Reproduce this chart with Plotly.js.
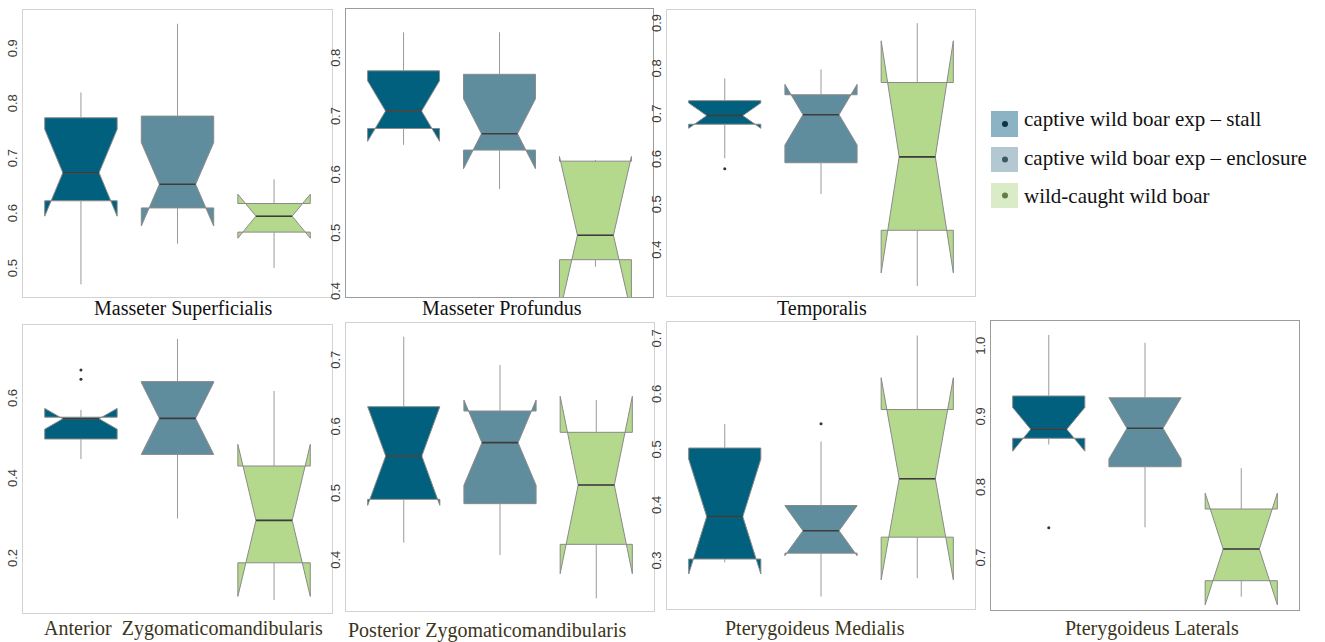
<!DOCTYPE html>
<html><head><meta charset="utf-8">
<script src="https://cdn.plot.ly/plotly-3.0.1.min.js"></script>
<style>html,body{margin:0;padding:0;background:#fff}</style>
</head><body><div id="chart" style="width:1325px;height:642px"></div>
<script>
// ---- data ----
const muscles = ['Masseter Superficialis','Masseter Profundus','Temporalis','Anterior\u00a0 Zygomaticomandibularis','Posterior Zygomaticomandibularis','Pterygoideus Medialis','Pterygoideus Laterals'];
const groups = ['captive wild boar exp \u2013 stall','captive wild boar exp \u2013 enclosure','wild-caught wild boar'];

const stallQ1     = [0.626, 0.682, 0.681, 0.5025, 0.4935, 0.306, 0.8717];
const stallMedian = [0.677, 0.712, 0.700, 0.553, 0.5585, 0.3825, 0.8844];
const stallQ3     = [0.777, 0.781, 0.733, 0.557, 0.6325, 0.506, 0.9316];
const stallLow    = [0.474, 0.654, 0.606, 0.4525, 0.4285, 0.300, 0.863];
const stallHigh   = [0.823, 0.847, 0.782, 0.575, 0.7375, 0.549, 1.018];
const stallNotch  = [0.079, 0.052, 0.028, 0.026, 0.074, 0.1035, 0.031];
const stallOutliers = [[], [], [0.583], [0.675, 0.652], [], [], [0.745]];

const enclQ1     = [0.613, 0.645, 0.596, 0.464, 0.487, 0.3166, 0.8314];
const enclMedian = [0.656, 0.673, 0.702, 0.554, 0.5785, 0.357, 0.8858];
const enclQ3     = [0.780, 0.775, 0.746, 0.646, 0.626, 0.4024, 0.929];
const enclLow    = [0.548, 0.578, 0.527, 0.304, 0.410, 0.2384, 0.7456];
const enclHigh   = [0.948, 0.847, 0.802, 0.7525, 0.695, 0.5177, 1.007];
const enclNotch  = [0.076, 0.060, 0.067, 0.090, 0.064, 0.045, 0.0434];
const enclOutliers = [[], [], [], [], [], [0.5495], []];

const wildQ1     = [0.569, 0.457, 0.447, 0.193, 0.426, 0.3454, 0.670];
const wildMedian = [0.598, 0.499, 0.609, 0.299, 0.515, 0.4505, 0.7149];
const wildQ3     = [0.621, 0.626, 0.773, 0.435, 0.594, 0.5753, 0.7715];
const wildLow    = [0.504, 0.445, 0.324, 0.100, 0.345, 0.2715, 0.6473];
const wildHigh   = [0.665, 0.628, 0.904, 0.6225, 0.6425, 0.7087, 0.8292];
const wildNotch  = [0.040, 0.135, 0.256, 0.190, 0.133, 0.182, 0.079];
const wildOutliers = [[], [], [], [], [], [], []];

const yRanges = [[0.451,0.973],[0.393,0.887],[0.302,0.933],[0.0675,0.7875],[0.326,0.758],[0.216,0.733],[0.6285,1.0378]];
const yDticks = [0.1,0.1,0.1,0.2,0.1,0.1,0.1];

// ---- styling / layout ----
const W = 1325, H = 642;
const panelPx = [[23,332,10,297],[346,653,9,297],[667,975,10,296],[23,332,325,613],[346,654,323,611],[667,975,322,609],[991,1299,321,610]];
const frameColors = ['#d2d2d2','#9c9c9c','#d2d2d2','#d2d2d2','#d2d2d2','#d2d2d2','#9c9c9c'];
const labelPos = [[183,308],[502,308],[822,308],[183.5,628],[486.5,630],[815,628],[1151.5,628]];
const labelColors = ['#111','#111','#111','#3b341a','#3b341a','#3b341a','#3b341a'];
const fills = ['#00607e','#5f8d9d','#b4d88c'];
const legendFills = ['#8bb3c3','#b3c8d0','#d9ebc7'];
const legendDots = ['#0c3546','#3b5864','#617d4c'];
const boxWidth = 0.75, notchW = 0.25;

const stats = [
  [stallQ1, stallMedian, stallQ3, stallLow, stallHigh, stallNotch, stallOutliers],
  [enclQ1, enclMedian, enclQ3, enclLow, enclHigh, enclNotch, enclOutliers],
  [wildQ1, wildMedian, wildQ3, wildLow, wildHigh, wildNotch, wildOutliers]
];

const px2x = p => p / W;
const py2y = p => 1 - p / H;

const traces = [];
const layout = {
  width: W, height: H,
  margin: {l:0, r:0, t:0, b:0},
  paper_bgcolor: '#fff', plot_bgcolor: '#fff',
  showlegend: false,
  shapes: [], annotations: []
};

for (let k = 0; k < muscles.length; k++) {
  const ax = k === 0 ? '' : String(k + 1);
  const b = panelPx[k];
  layout['xaxis' + ax] = {
    domain: [px2x(b[0]), px2x(b[1])], range: [-0.6, 2.6],
    showticklabels: false, ticks: '', showgrid: false, zeroline: false,
    showline: true, mirror: true, linecolor: frameColors[k], linewidth: 1,
    anchor: 'y' + ax, fixedrange: true
  };
  layout['yaxis' + ax] = {
    domain: [py2y(b[3]), py2y(b[2])], range: yRanges[k],
    tick0: 0, dtick: yDticks[k], tickformat: '.1f', tickangle: -90, ticks: '',
    tickfont: {family: 'Liberation Sans, Arial, sans-serif', size: 13, color: '#3a3a3a'},
    showgrid: false, zeroline: false,
    showline: true, mirror: true, linecolor: frameColors[k], linewidth: 1,
    anchor: 'x' + ax, fixedrange: true
  };
  for (let g = 0; g < 3; g++) {
    const s = stats[g];
    // whiskers (drawn underneath the box)
    traces.push({
      type: 'scatter', mode: 'lines', xaxis: 'x' + ax, yaxis: 'y' + ax,
      x: [g, g, null, g, g], y: [s[0][k], s[3][k], null, s[2][k], s[4][k]],
      line: {color: '#9a9a9a', width: 1}, showlegend: false, hoverinfo: 'skip'
    });
    traces.push({
      type: 'box', xaxis: 'x' + ax, yaxis: 'y' + ax,
      name: groups[g],
      x: [g], q1: [s[0][k]], median: [s[1][k]], q3: [s[2][k]],
      lowerfence: [s[0][k]], upperfence: [s[2][k]], notchspan: [s[5][k]],
      notched: true, notchwidth: notchW, width: boxWidth, whiskerwidth: 0,
      showwhiskers: false, boxpoints: false,
      fillcolor: fills[g], line: {color: '#8a8a8a', width: 1},
      showlegend: false, hoverinfo: 'skip'
    });
    const hw = boxWidth / 2 * (1 - 2 * notchW);
    traces.push({
      type: 'scatter', mode: 'lines', xaxis: 'x' + ax, yaxis: 'y' + ax,
      x: [g - hw, g + hw], y: [s[1][k], s[1][k]],
      line: {color: '#3d3d3d', width: 1.6}, showlegend: false, hoverinfo: 'skip'
    });
    if (s[6][k].length) {
      traces.push({
        type: 'scatter', mode: 'markers', xaxis: 'x' + ax, yaxis: 'y' + ax,
        x: s[6][k].map(() => g), y: s[6][k],
        marker: {color: '#333', size: 3}, showlegend: false, hoverinfo: 'skip'
      });
    }
  }
  layout.annotations.push({
    xref: 'paper', yref: 'paper', x: px2x(labelPos[k][0]), y: py2y(labelPos[k][1]),
    xanchor: 'center', yanchor: 'middle', showarrow: false,
    text: muscles[k],
    font: {family: 'Liberation Serif, Times New Roman, serif', size: 20, color: labelColors[k]}
  });
}

// legend drawn manually
const legRows = [[111,137,119],[147,172,158],[183,208,196]];
for (let g = 0; g < 3; g++) {
  const r = legRows[g];
  layout.shapes.push({type:'rect', xref:'paper', yref:'paper',
    x0: px2x(991), x1: px2x(1018), y0: py2y(r[1]), y1: py2y(r[0]),
    fillcolor: legendFills[g], line: {width: 0}});
  const cy = (r[0] + r[1]) / 2;
  layout.shapes.push({type:'circle', xref:'paper', yref:'paper',
    x0: px2x(1002), x1: px2x(1008), y0: py2y(cy + 3), y1: py2y(cy - 3),
    fillcolor: legendDots[g], line: {width: 0}});
  layout.annotations.push({
    xref:'paper', yref:'paper', x: px2x(1022), y: py2y(r[2]),
    xanchor:'left', yanchor:'middle', showarrow:false, text: groups[g],
    font: {family: 'Liberation Serif, Times New Roman, serif', size: 21, color: '#111'}
  });
}

Plotly.newPlot('chart', traces, layout, {displayModeBar: false, staticPlot: true});
</script>
</body></html>
